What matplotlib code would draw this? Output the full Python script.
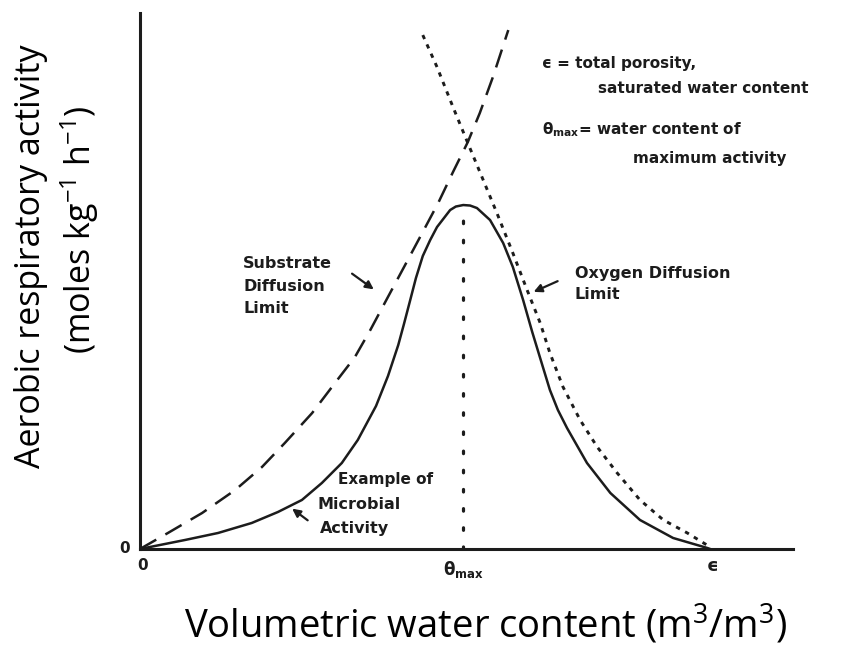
import matplotlib.pyplot as plt

# Curve points, x as fraction of total porosity (eps = 1), y in relative activity units
act_x = [0.0, 0.079, 0.137, 0.196, 0.242, 0.284, 0.319, 0.354, 0.382, 0.414,
         0.435, 0.453, 0.463, 0.474, 0.484, 0.496, 0.509, 0.521, 0.544, 0.554,
         0.567, 0.579, 0.591, 0.614, 0.637, 0.654, 0.672, 0.688, 0.704, 0.719,
         0.733, 0.749, 0.784, 0.825, 0.877, 0.935, 0.995, 1.0]
act_y = [0.0, 0.09, 0.16, 0.26, 0.37, 0.49, 0.66, 0.86, 1.09, 1.43,
         1.73, 2.04, 2.25, 2.49, 2.71, 2.93, 3.09, 3.22, 3.39, 3.425,
         3.44, 3.435, 3.41, 3.29, 3.06, 2.82, 2.49, 2.17, 1.87, 1.59,
         1.39, 1.21, 0.86, 0.56, 0.29, 0.11, 0.01, 0.0]

sub_x = [0.0, 0.049, 0.109, 0.167, 0.214, 0.254, 0.302, 0.342, 0.377, 0.404,
         0.433, 0.465, 0.495, 0.523, 0.549, 0.575, 0.596, 0.619, 0.646]
sub_y = [0.0, 0.16, 0.36, 0.59, 0.82, 1.06, 1.36, 1.66, 1.92, 2.19,
         2.50, 2.84, 3.16, 3.46, 3.77, 4.07, 4.36, 4.72, 5.19]

oxy_x = [0.496, 0.521, 0.549, 0.575, 0.602, 0.626, 0.654, 0.679, 0.702, 0.719,
         0.742, 0.772, 0.802, 0.837, 0.877, 0.918, 0.96, 1.0]
oxy_y = [5.14, 4.82, 4.42, 4.06, 3.69, 3.36, 2.96, 2.59, 2.26, 1.96,
         1.62, 1.29, 1.02, 0.76, 0.49, 0.29, 0.16, 0.02]

theta_max = 0.567
peak = 3.44

plt.rcParams["mathtext.fontset"] = "custom"
plt.rcParams["mathtext.rm"] = "Open Sans"
plt.rcParams["mathtext.bf"] = "DejaVu Sans:bold"

ink = "#1c1c1c"
ann_font = dict(family="DejaVu Sans", weight="bold", color=ink)

fig = plt.figure(figsize=(8.51, 6.53), dpi=100)
ax = fig.add_axes([0.1645, 0.1593, 0.7675, 0.8207])

ax.plot(act_x, act_y, color=ink, lw=1.8, solid_joinstyle="round")
ax.plot(sub_x, sub_y, color=ink, lw=1.8, linestyle=(0, (7.5, 4.2)))
ax.plot(oxy_x, oxy_y, color=ink, lw=2.1, linestyle=(0, (1.5, 2.0)))
# vertical marker at the water content of maximum activity
ax.plot([theta_max, theta_max], [0, peak - 0.12], color=ink, lw=2.3,
        linestyle=(0, (0.8, 5.2)), dash_capstyle="round")

ax.set_xlim(0, 1.1456)
ax.set_ylim(0, 5.36)
for side in ["top", "right"]:
    ax.spines[side].set_visible(False)
for side in ["left", "bottom"]:
    ax.spines[side].set_linewidth(2.2)
    ax.spines[side].set_color(ink)
ax.set_xticks([])
ax.set_yticks([])

# axis marks
ax.text(-0.018, 0.0, "0", ha="right", va="center", fontsize=11, **ann_font)
ax.text(0.004, -0.09, "0", ha="center", va="top", fontsize=11, **ann_font)
ax.text(theta_max, -0.1, r"θ$_\mathbf{max}$", ha="center", va="top", fontsize=12, **ann_font)
ax.text(1.005, -0.08, "ϵ", ha="center", va="top", fontsize=13, **ann_font)

# definitions, top right
ax.text(0.705, 4.86, "ϵ = total porosity,", ha="left", va="center", fontsize=11, **ann_font)
ax.text(0.804, 4.61, "saturated water content", ha="left", va="center", fontsize=11, **ann_font)
ax.text(0.705, 4.19, r"θ$_\mathbf{max}$= water content of", ha="left", va="center",
        fontsize=11, **ann_font)
ax.text(0.865, 3.91, "maximum activity", ha="left", va="center", fontsize=11, **ann_font)

# curve labels
ax.text(0.181, 2.86, "Substrate", ha="left", va="center", fontsize=11.5, **ann_font)
ax.text(0.181, 2.63, "Diffusion", ha="left", va="center", fontsize=11.5, **ann_font)
ax.text(0.181, 2.41, "Limit", ha="left", va="center", fontsize=11.5, **ann_font)
ax.annotate("", xy=(0.414, 2.58), xytext=(0.368, 2.77),
            arrowprops=dict(arrowstyle="-|>", color=ink, lw=1.6, mutation_scale=12))

ax.text(0.763, 2.76, "Oxygen Diffusion", ha="left", va="center", fontsize=11.5, **ann_font)
ax.text(0.763, 2.55, "Limit", ha="left", va="center", fontsize=11.5, **ann_font)
ax.annotate("", xy=(0.686, 2.56), xytext=(0.737, 2.69),
            arrowprops=dict(arrowstyle="-|>", color=ink, lw=1.6, mutation_scale=12))

ax.text(0.348, 0.69, "Example of", ha="left", va="center", fontsize=11, **ann_font)
ax.text(0.312, 0.44, "Microbial", ha="left", va="center", fontsize=11.5, **ann_font)
ax.text(0.315, 0.20, "Activity", ha="left", va="center", fontsize=11.5, **ann_font)
ax.annotate("", xy=(0.263, 0.42), xytext=(0.298, 0.27),
            arrowprops=dict(arrowstyle="-|>", color=ink, lw=1.6, mutation_scale=12))

fig.text(0.571, 0.043, "Volumetric water content (m$^3$/m$^3$)", ha="center", va="center",
         fontsize=27.5, family="Open Sans")
fig.text(0.036, 0.608, "Aerobic respiratory activity", ha="center", va="center",
         rotation=90, fontsize=24.5, family="Open Sans")
fig.text(0.094, 0.648, "(moles kg$^{-1}$ h$^{-1}$)", ha="center", va="center",
         rotation=90, fontsize=24.5, family="Open Sans")

fig.savefig("out.png", dpi=100)
